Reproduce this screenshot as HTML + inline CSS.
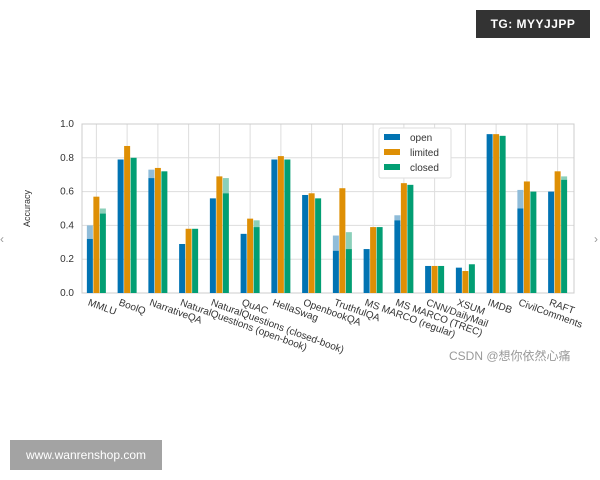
<!DOCTYPE html>
<html><head><meta charset="utf-8"><style>
body{margin:0;width:600px;height:480px;background:#fff;overflow:hidden;font-family:"Liberation Sans","DejaVu Sans",sans-serif;position:relative}
.wm{position:absolute;color:#fff;font-size:12px;display:flex;align-items:center;justify-content:center}
</style></head><body>
<div class="wm" style="left:476px;top:10px;width:114px;height:28px;background:#333;font-weight:bold;letter-spacing:0.5px">TG: MYYJJPP</div>
<div class="wm" style="left:10px;top:440px;width:152px;height:30px;background:#a3a3a3;font-size:12px">www.wanrenshop.com</div>
<div style="position:absolute;left:449px;top:347px;font-size:12px;color:#999;font-family:'Liberation Sans','Noto Sans CJK SC',sans-serif">CSDN @想你依然心痛</div>
<div style="position:absolute;left:0;top:232px;color:#999;font-size:12px">‹</div>
<div style="position:absolute;left:594px;top:232px;color:#999;font-size:12px">›</div>
<svg id="c" width="600" height="480" style="position:absolute;left:0;top:0"></svg>
<script>
const categories=["MMLU","BoolQ","NarrativeQA","NaturalQuestions (open-book)","NaturalQuestions (closed-book)","QuAC","HellaSwag","OpenbookQA","TruthfulQA","MS MARCO (regular)","MS MARCO (TREC)","CNN/DailyMail","XSUM","IMDB","CivilComments","RAFT"];
const openVals=[0.32,0.79,0.68,0.29,0.56,0.35,0.79,0.58,0.25,0.26,0.43,0.16,0.15,0.94,0.50,0.60];
const openLight=[0.40,0.79,0.73,0.29,0.56,0.35,0.79,0.58,0.34,0.26,0.46,0.16,0.15,0.94,0.61,0.60];
const limitedVals=[0.57,0.87,0.74,0.38,0.69,0.44,0.81,0.59,0.62,0.39,0.65,0.16,0.13,0.94,0.66,0.72];
const closedVals=[0.47,0.80,0.72,0.38,0.59,0.39,0.79,0.56,0.26,0.39,0.64,0.16,0.17,0.93,0.60,0.67];
const closedLight=[0.50,0.80,0.72,0.38,0.68,0.43,0.79,0.56,0.36,0.39,0.64,0.16,0.17,0.93,0.60,0.69];
const yTicks=[0,0.2,0.4,0.6,0.8,1.0];
const NS="http://www.w3.org/2000/svg",svg=document.getElementById('c');
const L=82,R=574,T=124,B=293;
const y=v=>B-(B-T)*v;
const step=(R-L)/categories.length;
const cx=i=>L+step*(i+0.5)-1;
function mk(t,a,p){const e=document.createElementNS(NS,t);for(const k in a)e.setAttribute(k,a[k]);(p||svg).appendChild(e);return e;}
yTicks.forEach(v=>{
 const g=mk('line',{x1:L,x2:R,y1:y(v),y2:y(v),stroke:'#ddd','stroke-width':1});
 
 const t=mk('text',{x:L-8,y:y(v)+3,'font-size':10,fill:'#333','text-anchor':'end'});t.textContent=v.toFixed(1);
 
});
categories.forEach((c,i)=>{
 const g=mk('line',{x1:cx(i),x2:cx(i),y1:T,y2:B,stroke:'#ddd','stroke-width':1});
 
});
mk('rect',{x:L,y:T,width:R-L,height:B-T,fill:'none',stroke:'#ccc'});
const bw=6;
const cols=['#0173b2','#de8f05','#029e73'],light=['#8fbcd9','#eec482','#8acfb9'];
categories.forEach((c,i)=>{
 const xs=[cx(i)-bw*1.5-0.5,cx(i)-bw/2,cx(i)+bw/2+0.5];
 const sets=[[openVals[i],openLight[i]],[limitedVals[i],limitedVals[i]],[closedVals[i],closedLight[i]]];
 sets.forEach((s,k)=>{
  if(s[1]>s[0]){const l=mk('rect',{x:xs[k],y:y(s[1]),width:bw,height:y(s[0])-y(s[1]),fill:light[k]});
   }
  const b=mk('rect',{x:xs[k],y:y(s[0]),width:bw,height:B-y(s[0]),fill:cols[k]});
  
 });
 const t=mk('text',{x:0,y:0,'font-size':10,fill:'#333',transform:`translate(${cx(i)-9},${B+12}) rotate(20)`});
 t.textContent=c;
});
const yt=mk('text',{x:0,y:0,'font-size':9,fill:'#333','text-anchor':'middle',transform:`translate(30,${(T+B)/2}) rotate(-90)`});
yt.textContent='Accuracy';
const lg=mk('g',{});
mk('rect',{x:379,y:128,width:72,height:50,fill:'#fff',stroke:'#ddd',rx:2},lg);
['open','limited','closed'].forEach((n,k)=>{
 const e=mk('g',{},lg);
 mk('rect',{x:384,y:134+k*15,width:16,height:6,fill:cols[k]},e);
 const t=mk('text',{x:410,y:141+k*15,'font-size':10,fill:'#333'},e);t.textContent=n;
});
</script>
</body></html>
